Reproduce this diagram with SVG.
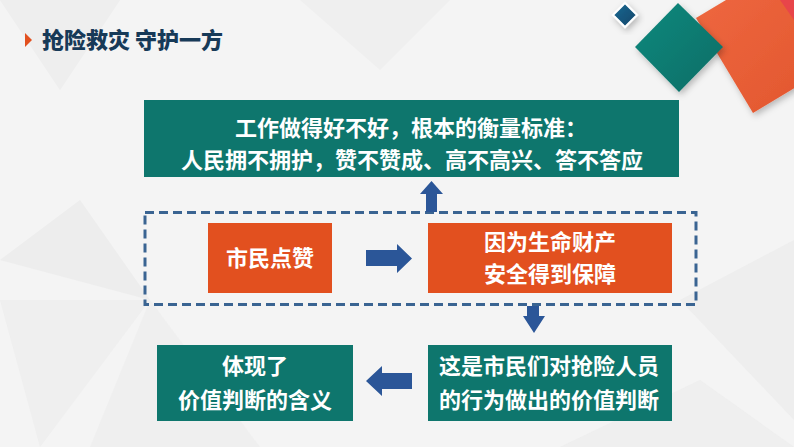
<svg xmlns="http://www.w3.org/2000/svg" width="794" height="447" viewBox="0 0 794 447">
<defs>
<style>
.teal{fill:#0e766d}
.orange{fill:#e2501f}
.txt{font-family:"Noto Sans CJK SC","Noto Sans",sans-serif;font-weight:bold;font-size:22px;fill:#ffffff;text-anchor:middle}
.arrow{fill:#2b5698}
.bgtri{fill:#e9e9e9}
</style>
<linearGradient id="gOr" x1="0" y1="0" x2="1" y2="1"><stop offset="0" stop-color="#f06a42"/><stop offset="1" stop-color="#e0532c"/></linearGradient>
<linearGradient id="gTe" x1="0" y1="0" x2="1" y2="1"><stop offset="0" stop-color="#12897d"/><stop offset="1" stop-color="#0b6d66"/></linearGradient>
<linearGradient id="gBl" x1="0" y1="0" x2="1" y2="1"><stop offset="0" stop-color="#1d6a94"/><stop offset="1" stop-color="#0d4468"/></linearGradient>
<filter id="sh" x="-30%" y="-30%" width="160%" height="160%"><feDropShadow dx="2" dy="3" stdDeviation="3" flood-color="#000" flood-opacity="0.25"/></filter>
</defs>
<rect width="794" height="447" fill="#f4f4f4"/>
<g id="background">
<polygon class="bgtri" points="0,0 120,0 60,90" opacity="0.6"/>
<polygon class="bgtri" points="0,260 80,200 150,300" opacity="0.7"/>
<polygon class="bgtri" points="0,300 150,300 40,447" opacity="0.5"/>
<polygon class="bgtri" points="150,300 90,447 260,447" opacity="0.4"/>
<polygon class="bgtri" points="680,300 794,240 794,420" opacity="0.6"/>
<polygon class="bgtri" points="560,447 700,380 794,447" opacity="0.5"/>
<polygon class="bgtri" points="300,0 450,0 380,70" opacity="0.4"/>
</g>
<g id="decor">
<polygon points="625,3 637,15 625,27 613,15" fill="url(#gBl)" stroke="#ffffff" stroke-width="2" filter="url(#sh)"/>
<polygon points="696,18 753,113 848,56 791,-39" fill="url(#gOr)" filter="url(#sh)"/>
<polygon points="780,0 794,0 794,20" fill="#e8454a"/>
<polygon points="678,3 723,47 679,92 635,47" fill="url(#gTe)" filter="url(#sh)"/>
</g>
<g id="title">
<polygon points="25,33 32,40 25,47" fill="#e2501f"/>
<text x="42" y="48" font-family="'Noto Sans CJK SC','Noto Sans',sans-serif" font-weight="900" font-size="22" fill="#173a58">抢险救灾 守护一方</text>
</g>
<g id="connectors">
<rect x="145" y="212.5" width="551" height="92" fill="none" stroke="#3a6492" stroke-width="3" stroke-dasharray="9,5"/>
<polygon class="arrow" points="426,212 426,194 420,194 431.5,181 443,194 437,194 437,212"/>
<polygon class="arrow" points="366,250 397,250 397,244 412,258.5 397,273 397,266 366,266"/>
<polygon class="arrow" points="527,306 539,306 539,316 545,316 534,333 523,316 527,316"/>
<polygon class="arrow" points="412,373 382,373 382,366 366,381 382,396 382,389 412,389"/>
</g>
<g id="node-standard">
<rect class="teal" x="144" y="100" width="535" height="77"/>
<text class="txt" x="411" y="136">工作做得好不好，根本的衡量标准：</text>
<text class="txt" x="412" y="168">人民拥不拥护，赞不赞成、高不高兴、答不答应</text>
</g>
<g id="node-praise">
<rect class="orange" x="208" y="223" width="124" height="70"/>
<text class="txt" x="270" y="266">市民点赞</text>
</g>
<g id="node-reason">
<rect class="orange" x="428" y="223" width="244" height="70"/>
<text class="txt" x="550" y="250">因为生命财产</text>
<text class="txt" x="550" y="282">安全得到保障</text>
</g>
<g id="node-judgment">
<rect class="teal" x="428" y="345" width="244" height="76"/>
<text class="txt" x="549" y="374">这是市民们对抢险人员</text>
<text class="txt" x="549" y="408">的行为做出的价值判断</text>
</g>
<g id="node-meaning">
<rect class="teal" x="157" y="345" width="196" height="76"/>
<text class="txt" x="255" y="374">体现了</text>
<text class="txt" x="255" y="408">价值判断的含义</text>
</g>
</svg>
